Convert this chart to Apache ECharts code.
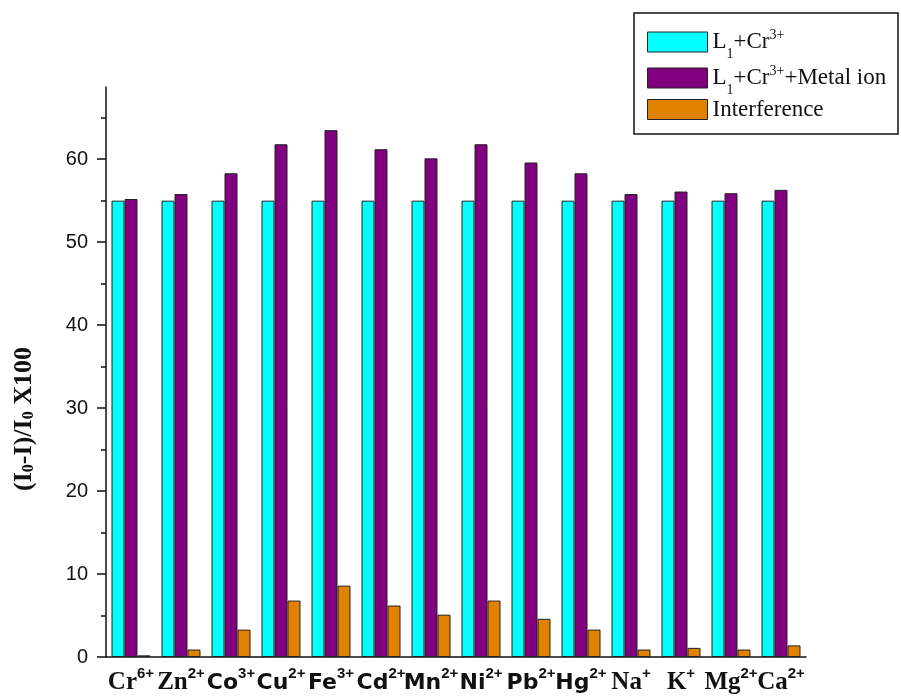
<!DOCTYPE html>
<html>
<head>
<meta charset="utf-8">
<script src="https://cdn.jsdelivr.net/npm/echarts@6/dist/echarts.min.js"></script>
<style>
  html, body { margin: 0; padding: 0; background: #fff; }
  #chart { width: 901px; height: 699px; }
</style>
</head>
<body>
<div id="chart"></div>
<script>
// Ions on the category axis: element symbol and its charge (superscript)
const ions    = ['Cr', 'Zn', 'Co', 'Cu', 'Fe', 'Cd', 'Mn', 'Ni', 'Pb', 'Hg', 'Na', 'K', 'Mg', 'Ca'];
const charges = ['6+', '2+', '3+', '2+', '3+', '2+', '2+', '2+', '2+', '2+', '+', '+', '2+', '2+'];

// Series values, (I0-I)/I0 x 100
const l1Cr        = [55, 55, 55, 55, 55, 55, 55, 55, 55, 55, 55, 55, 55, 55];
const l1CrMetal   = [55.2, 55.8, 58.3, 61.8, 63.5, 61.2, 60.1, 61.8, 59.6, 58.3, 55.8, 56.1, 55.9, 56.3];
const interference = [0.2, 0.9, 3.3, 6.8, 8.6, 6.2, 5.1, 6.8, 4.6, 3.3, 0.9, 1.1, 0.9, 1.4];

// Axis ticks
const yLabelTicks = [0, 10, 20, 30, 40, 50, 60];
const yMinorTicks = [5, 15, 25, 35, 45, 55, 65];
const yMax = 68.7;

const seriesNames = ['L1+Cr3+', 'L1+Cr3++Metal ion', 'Interference'];

// element symbols set in a serif face on the axis
const serifSymbols = new Set(['Cr', 'Zn', 'Na', 'K', 'Mg', 'Ca']);

const categories = ions.map((s, i) => s + charges[i]);

// legend labels with the subscript 1 and superscript 3+
function legendText(name) {
  if (name === seriesNames[0]) return '{t|L}{sb|1}{t|+Cr}{sp|3+}';
  if (name === seriesNames[1]) return '{t|L}{sb|1}{t|+Cr}{sp|3+}{t|+Metal ion}';
  return '{t|' + name + '}';
}

// one legend block per entry so each row sits on its own line
function legendRow(name, top) {
  return {
    orient: 'vertical',
    left: 647,
    top: top,
    itemWidth: 60,
    itemHeight: 20,
    padding: 0,
    icon: 'rect',
    itemStyle: { borderColor: '#222', borderWidth: 1 },
    data: [name],
    formatter: legendText,
    textStyle: {
      color: '#111',
      rich: {
        t:  { fontFamily: 'Liberation Serif', fontSize: 23, color: '#111', lineHeight: 38, verticalAlign: 'middle' },
        sb: { fontFamily: 'Liberation Serif', fontSize: 14, color: '#111', verticalAlign: 'bottom' },
        sp: { fontFamily: 'Liberation Serif', fontSize: 14, color: '#111', padding: [5, 0, 0, 0], verticalAlign: 'top' }
      }
    }
  };
}

const chart = echarts.init(document.getElementById('chart'), null, { renderer: 'canvas' });

const option = {
  backgroundColor: '#ffffff',
  animation: false,
  grid: { left: 106, right: 95, top: 87, bottom: 42, containLabel: false, outerBoundsMode: 'none' },
  graphic: [{
    type: 'rect',
    shape: { x: 634, y: 13, width: 264, height: 121 },
    style: { fill: 'none', stroke: '#111', lineWidth: 1.5 },
    z: 10
  }],
  legend: [
    legendRow(seriesNames[0], 28),
    legendRow(seriesNames[1], 64),
    legendRow(seriesNames[2], 98)
  ],
  xAxis: [{
    type: 'category',
    data: categories,
    position: 'bottom',
    axisLine: { lineStyle: { color: '#111', width: 1.5 } },
    axisTick: { alignWithLabel: true, length: 10, lineStyle: { color: '#111', width: 1.5 } },
    axisLabel: {
      interval: 0,
      margin: 9,
      formatter: function (value, idx) {
        const sym = ions[idx];
        const key = serifSymbols.has(sym) ? 'ser' : 'san';
        return '{' + key + '|' + sym + '}{sup|' + charges[idx] + '}';
      },
      rich: {
        ser: { fontFamily: 'Liberation Serif', fontWeight: 'bold', fontSize: 25, color: '#111', lineHeight: 34, verticalAlign: 'middle' },
        san: { fontFamily: 'DejaVu Sans', fontWeight: 'bold', fontSize: 22, color: '#111', lineHeight: 34, verticalAlign: 'middle' },
        sup: { fontFamily: 'Liberation Sans', fontWeight: 'bold', fontSize: 15, color: '#111', lineHeight: 15, verticalAlign: 'top' }
      }
    },
    splitLine: { show: false }
  }, {
    type: 'category',
    data: categories,
    position: 'bottom',
    axisLine: { show: false },
    axisTick: { length: 6, lineStyle: { color: '#111', width: 1.5 } },
    axisLabel: { show: false },
    splitLine: { show: false }
  }],
  yAxis: [{
    type: 'value',
    min: 0,
    max: yMax,
    interval: 10,
    name: '{n|(I}{sb|0}{n|-I)/I}{sb|0}{n| X100}',
    nameLocation: 'middle',
    nameRotate: 90,
    nameGap: 69,
    nameTextStyle: {
      padding: [0, 94, 0, 0],
      rich: {
        n:  { fontFamily: 'Liberation Serif', fontWeight: 'bold', fontSize: 26, color: '#111', lineHeight: 26, padding: [0, 0, 6, 0], verticalAlign: 'top' },
        sb: { fontFamily: 'Liberation Serif', fontWeight: 'bold', fontSize: 16, color: '#111', lineHeight: 16, verticalAlign: 'bottom' }
      }
    },
    axisLine: { show: true, lineStyle: { color: '#111', width: 1.5 } },
    axisTick: { show: true, length: 9, customValues: yLabelTicks, lineStyle: { color: '#111', width: 1.5 } },
    axisLabel: {
      customValues: yLabelTicks,
      margin: 18,
      fontFamily: 'Liberation Sans',
      fontSize: 20,
      color: '#111'
    },
    splitLine: { show: false }
  }, {
    type: 'value',
    min: 0,
    max: yMax,
    interval: 10,
    position: 'left',
    axisLine: { show: false },
    axisTick: { show: true, length: 5, customValues: yMinorTicks, lineStyle: { color: '#111', width: 1.5 } },
    axisLabel: { show: false },
    splitLine: { show: false }
  }],
  series: [{
    name: seriesNames[0],
    type: 'bar',
    data: l1Cr,
    barWidth: 13,
    barGap: '0%',
    itemStyle: { color: '#00FFFF', borderColor: '#222', borderWidth: 1 }
  }, {
    name: seriesNames[1],
    type: 'bar',
    data: l1CrMetal,
    barWidth: 13,
    barGap: '0%',
    itemStyle: { color: '#800080', borderColor: '#222', borderWidth: 1 }
  }, {
    name: seriesNames[2],
    type: 'bar',
    data: interference,
    barWidth: 13,
    barGap: '0%',
    itemStyle: { color: '#E08200', borderColor: '#222', borderWidth: 1 }
  }]
};

chart.setOption(option);
</script>
</body>
</html>
